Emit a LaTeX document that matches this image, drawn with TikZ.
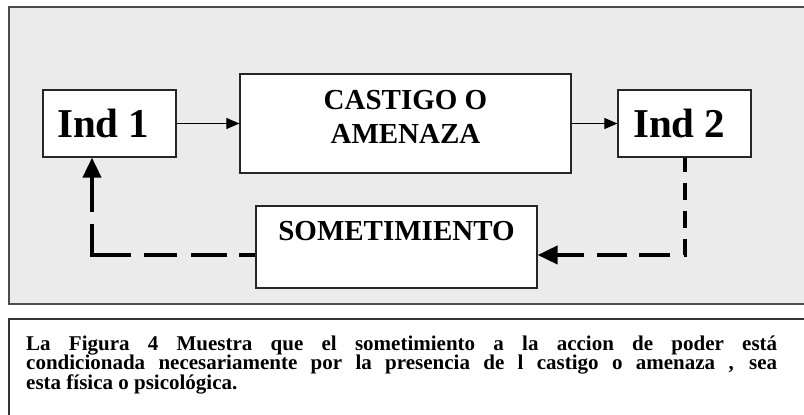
\documentclass[tikz,border=0pt]{standalone}
\usepackage{fontspec}
\setmainfont{Liberation Serif}
\usetikzlibrary{arrows.meta}

\tikzset{
  caja/.style={draw=black!85, line width=1.2pt, fill=white, inner sep=0pt},
  grande/.style={font=\bfseries\fontsize{41}{45}\selectfont, inner sep=0pt, anchor=west},
  rotulo/.style={font=\bfseries\fontsize{29}{34}\selectfont, inner sep=0pt, align=center},
  flecha/.style={-{Triangle[length=13pt,width=11pt]}, line width=1pt},
  retro/.style={-{Triangle[length=20pt,width=18pt]}, line width=4pt},
}

\begin{document}
\begin{tikzpicture}[x=1pt,y=-1pt]
      \useasboundingbox (0,0) rectangle (804,415);
      \clip (0,0) rectangle (804,415);
      \fill[white] (0,0) rectangle (804,415);
      \draw[fill=black!8, draw=black!70, line width=1.6pt] (9,7) rectangle (830,304);
      \draw[fill=white, draw=black!80, line width=1.2pt] (9,319) rectangle (830,440);
      % cajas
      \node[caja, minimum width=133pt, minimum height=67pt] (ind1) at (109.5,123.5) {};
      \node[caja, minimum width=331pt, minimum height=99pt] (cas) at (405.5,123.5) {};
      \node[caja, minimum width=133pt, minimum height=67pt] (ind2) at (684.5,123.5) {};
      \node[caja, minimum width=281pt, minimum height=82pt] (som) at (396.5,247) {};
      \node[grande] (t1) at (57,123.5) {Ind 1};
      \node[grande] (t2) at (633,123.5) {Ind 2};
      \node[rotulo] (tcas) at (405.5,116.5) {CASTIGO O\\AMENAZA};
      \node[rotulo] (tsom) at (396.5,231) {SOMETIMIENTO};
      \coordinate (a) at ([yshift=-8pt]som.west);
      \coordinate (b) at ([xshift=-17.5pt]ind1.south);
      \coordinate (c) at (ind2.south |- a);
      \coordinate (d) at (som.east |- a);
      % flechas
      \draw[flecha] (ind1) -- (cas);
      \draw[flecha] (cas) -- (ind2);
      \draw[retro, dash pattern=on 14pt off 11pt on 17pt off 11pt on 17pt off 11pt on 17pt off 13.5pt on 31pt off 12pt on 30pt off 13pt on 60pt]
        (ind2.south) -- (c) -- (d);
      \draw[retro, dash pattern=on 16pt off 12pt on 36pt off 14pt on 33pt off 13pt on 70pt off 12pt on 60pt]
        (a) -| (b);
      % nota
      \node[anchor=base west, text width=751pt, align=justify, inner sep=0pt,
            font=\bfseries\fontsize{21}{19.5}\selectfont] (nota) at (26,350)
        {\hyphenpenalty=10000 \tolerance=9999 La Figura 4 Muestra que el sometimiento a la accion de poder está\linebreak
         condicionada necesariamente por la presencia de l castigo o amenaza , sea\linebreak
         esta física o psicológica.};
\end{tikzpicture}
\end{document}
